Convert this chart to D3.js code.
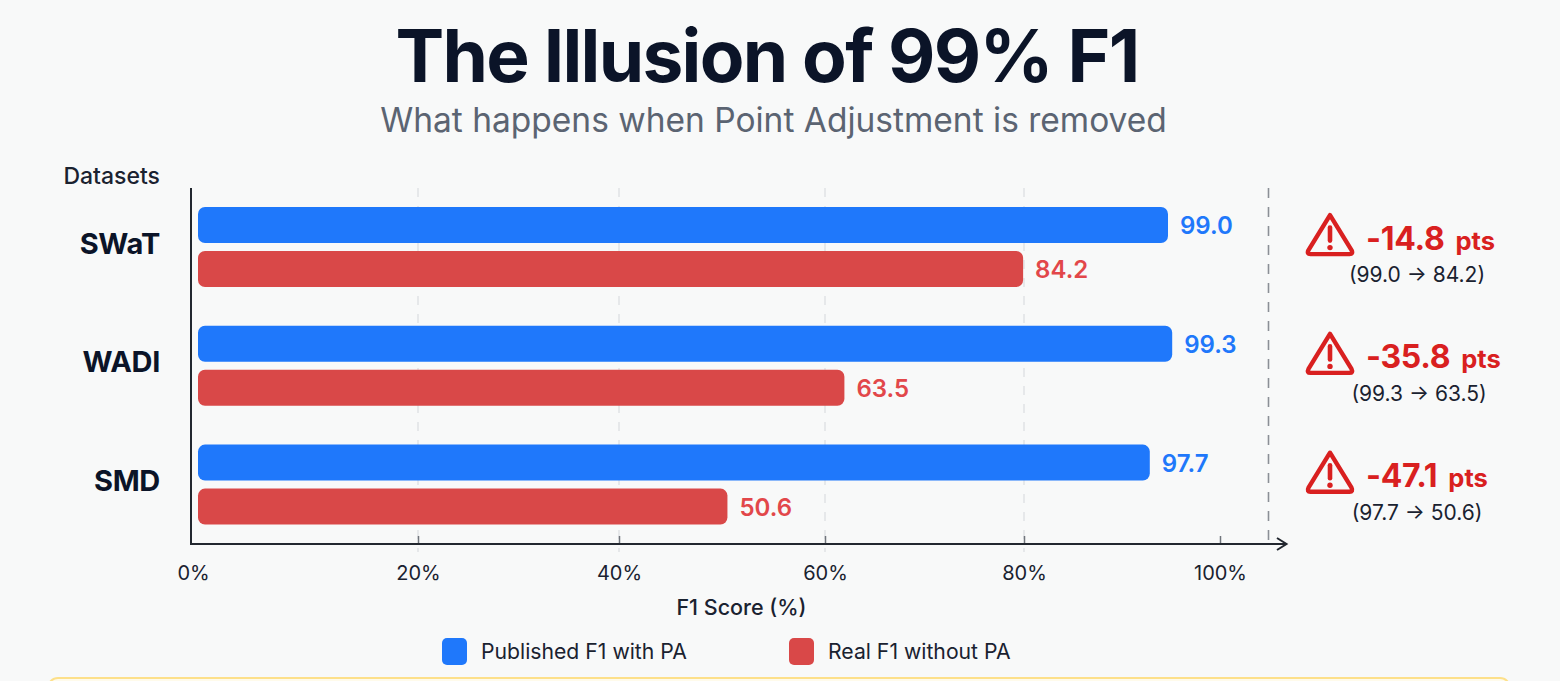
<!DOCTYPE html>
<html>
<head>
<meta charset="utf-8">
<style>
html,body{margin:0;padding:0;background:#f8f9f9;overflow:hidden}
svg{display:block;font-family:Inter,"Noto Sans",sans-serif}
</style>
<script src="https://cdn.jsdelivr.net/npm/d3@7/dist/d3.min.js"></script>
</head>
<body>
<svg id="chart" width="1560" height="681"></svg>
<script>
// Chart values
const datasets = ["SWaT", "WADI", "SMD"];
const seriesNames = ["Published F1 with PA", "Real F1 without PA"];
const publishedF1 = [99.0, 99.3, 97.7];
const realF1 = [84.2, 63.5, 50.6];
const dropPts = [-14.8, -35.8, -47.1];
const xTicks = [0, 20, 40, 60, 80, 100];

const C = {
  blue: "#1f78fb", red: "#d94848", redText: "#e2474a",
  alert: "#d92020", ink: "#0b1428", text: "#1a2230", muted: "#5b6472"
};

const svg = d3.select("#chart");

// Scales: the axis is ruled separately from the bar lengths
const xAxisScale = d3.scaleLinear().domain(xTicks).range([191, 418, 619, 825, 1024, 1220]);
const xBar = d3.scaleLinear().domain([0, 50, 65, 85, 97, 100]).range([198, 722, 858, 1030, 1140, 1182]);
const yGroup = d3.scaleBand().domain(datasets).range([187.6, 544]);
const ySeries = d3.scaleBand().domain(seriesNames).range([19.4, 99.4]).paddingInner(0.182);
const color = d3.scaleOrdinal().domain(seriesNames).range([C.blue, C.red]);

// Title block
svg.append("text").attr("x", 767).attr("y", 82).attr("text-anchor", "middle")
  .attr("font-size", 73).attr("font-weight", 700).attr("letter-spacing", "-1.7px")
  .attr("fill", C.ink).text("The Illusion of 99% F1");
svg.append("text").attr("x", 773.5).attr("y", 132).attr("text-anchor", "middle")
  .attr("font-size", 33.5).attr("font-weight", 400).attr("fill", C.muted)
  .text("What happens when Point Adjustment is removed");

// Dashed guides at the inner ticks
svg.append("g").selectAll("line").data(xTicks.slice(1, -1)).join("line")
  .attr("x1", d => xAxisScale(d)).attr("x2", d => xAxisScale(d))
  .attr("y1", 188).attr("y2", 552)
  .attr("stroke", "#e0e2e5").attr("stroke-width", 1.5).attr("stroke-dasharray", "9 9");

// Separator between the plot and the drop annotations
svg.append("line").attr("x1", 1268.5).attr("x2", 1268.5).attr("y1", 188).attr("y2", 544)
  .attr("stroke", "#8b8f96").attr("stroke-width", 1.6).attr("stroke-dasharray", "10 9");

// Bars and value labels
const rows = datasets.map((name, i) => ({
  name, drop: dropPts[i], pub: publishedF1[i], real: realF1[i],
  bars: [
    { key: seriesNames[0], value: publishedF1[i], label: C.blue },
    { key: seriesNames[1], value: realF1[i], label: C.redText }
  ]
}));

const group = svg.append("g").selectAll("g").data(rows).join("g")
  .attr("transform", d => `translate(0,${yGroup(d.name)})`);

group.selectAll("rect").data(d => d.bars).join("rect")
  .attr("x", xBar(0))
  .attr("y", d => ySeries(d.key))
  .attr("width", d => xBar(d.value) - xBar(0))
  .attr("height", ySeries.bandwidth())
  .attr("rx", 7)
  .attr("fill", d => color(d.key));

group.selectAll("text.value").data(d => d.bars).join("text")
  .attr("class", "value")
  .attr("x", d => xBar(d.value) + 12)
  .attr("y", d => ySeries(d.key) + ySeries.bandwidth() / 2 + 9)
  .attr("font-size", 24).attr("font-weight", 600).attr("fill", d => d.label)
  .text(d => d.value.toFixed(1));

// Dataset names
group.append("text").attr("x", 160).attr("y", 66).attr("text-anchor", "end")
  .attr("font-size", 29).attr("font-weight", 700).attr("letter-spacing", "-0.3px")
  .attr("fill", C.ink).text(d => d.name);

svg.append("text").attr("x", 160).attr("y", 184).attr("text-anchor", "end")
  .attr("font-size", 23).attr("font-weight", 500).attr("fill", C.text).text("Datasets");

// Axis lines and the arrow head
const axisY = 544;
svg.append("line").attr("x1", 191).attr("x2", 191).attr("y1", 188).attr("y2", axisY + 1)
  .attr("stroke", "#22272f").attr("stroke-width", 2);

const xAxis = d3.axisBottom(xAxisScale).tickValues(xTicks)
  .tickFormat(d => d + "%").tickSize(0).tickPadding(22);
const axisG = svg.append("g").attr("transform", `translate(0,${axisY})`).call(xAxis);
axisG.select(".domain").remove();
axisG.selectAll("text").attr("font-size", 20).attr("font-family", "Inter").attr("fill", C.text)
  .attr("dx", d => d === 0 ? 2 : 0);
axisG.selectAll(".tick").filter(d => d > 0).append("line")
  .attr("y1", -8).attr("y2", 0).attr("stroke", "#70757c").attr("stroke-width", 1.5);

svg.append("line").attr("x1", 190).attr("x2", 1286).attr("y1", axisY).attr("y2", axisY)
  .attr("stroke", "#22272f").attr("stroke-width", 2);
svg.append("path").attr("d", `M1277,${axisY - 6}L1286.5,${axisY}L1277,${axisY + 6}`)
  .attr("fill", "none").attr("stroke", "#22272f").attr("stroke-width", 2);

svg.append("text").attr("x", 741.5).attr("y", 615).attr("text-anchor", "middle")
  .attr("font-size", 21.5).attr("font-weight", 500).attr("fill", C.text).text("F1 Score (%)");

// Drop annotations: warning sign, points lost, before and after
const note = svg.append("g").selectAll("g").data(rows).join("g")
  .attr("transform", d => `translate(0,${yGroup(d.name)})`);

note.append("path")
  .attr("d", "M1330,27.5 L1351.5,62.5 Q1353.5,66.5 1349.5,66.5 L1310.5,66.5 Q1306.5,66.5 1308.5,62.5 Z")
  .attr("fill", "none").attr("stroke", C.alert).attr("stroke-width", 4.4).attr("stroke-linejoin", "round");
note.append("line").attr("x1", 1330).attr("x2", 1330).attr("y1", 40).attr("y2", 53)
  .attr("stroke", C.alert).attr("stroke-width", 4.6).attr("stroke-linecap", "round");
note.append("circle").attr("cx", 1330).attr("cy", 60).attr("r", 2.7).attr("fill", C.alert);

const drop = note.append("text").attr("x", 1366).attr("y", 62)
  .attr("fill", C.alert).attr("font-weight", 700);
drop.append("tspan").attr("font-size", 32).attr("letter-spacing", "-0.3px").text(d => d.drop.toFixed(1));
drop.append("tspan").attr("font-size", 25.5).attr("dx", 11).text("pts");

note.append("text").attr("x", d => d.name === "WADI" ? 1419 : 1417).attr("y", 94.5)
  .attr("text-anchor", "middle").attr("font-size", 21).attr("fill", C.text)
  .text(d => `(${d.pub.toFixed(1)} → ${d.real.toFixed(1)})`);

// Legend
const legendX = d3.scaleOrdinal().domain(seriesNames).range([442, 789]);
const legend = svg.append("g").selectAll("g").data(seriesNames).join("g")
  .attr("transform", d => `translate(${legendX(d)},638)`);
legend.append("rect").attr("width", 25).attr("height", 27).attr("rx", 5).attr("fill", d => color(d));
legend.append("text").attr("x", 39).attr("y", 21).attr("font-size", 21.2).attr("fill", C.text).text(d => d);

// Callout panel cut off by the bottom edge
svg.append("rect").attr("x", 48).attr("y", 678).attr("width", 1462).attr("height", 40).attr("rx", 10)
  .attr("fill", "#fffbeb").attr("stroke", "#fde08a").attr("stroke-width", 2);
</script>
</body>
</html>
